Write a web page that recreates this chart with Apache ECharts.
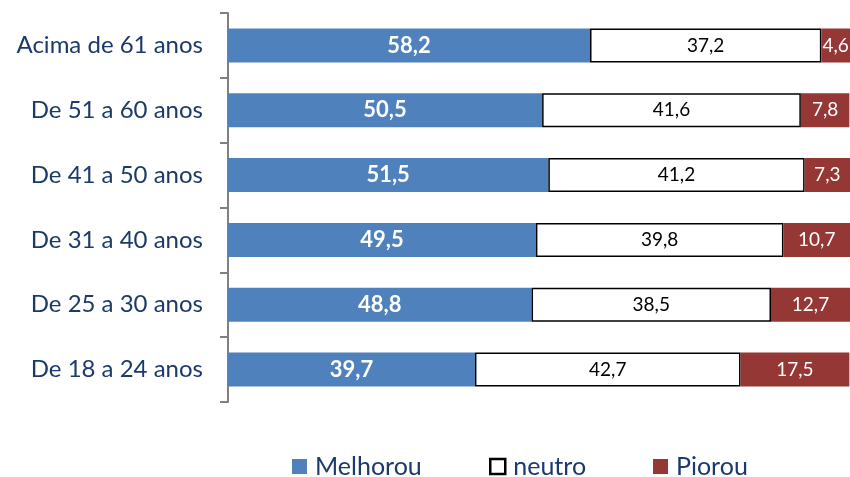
<!DOCTYPE html>
<html>
<head>
<meta charset="utf-8">
<script src="https://cdn.jsdelivr.net/npm/echarts@6/dist/echarts.min.js"></script>
<style>
  html, body { margin: 0; padding: 0; background: #ffffff; }
  #chart { width: 850px; height: 477px; }
</style>
</head>
<body>
<div id="chart"></div>
<script>
// Age groups, top to bottom
const categories = ['Acima de 61 anos', 'De 51 a 60 anos', 'De 41 a 50 anos', 'De 31 a 40 anos', 'De 25 a 30 anos', 'De 18 a 24 anos'];
// Share of answers (%) per group
const melhorou = [58.2, 50.5, 51.5, 49.5, 48.8, 39.7];
const neutro = [37.2, 41.6, 41.2, 39.8, 38.5, 42.7];
const piorou = [4.6, 7.8, 7.3, 10.7, 12.7, 17.5];
const seriesNames = ['Melhorou', 'neutro', 'Piorou'];

const fontFamily = 'Lato, "Open Sans", sans-serif';
const navy = '#1b3a6b';
const fmt = p => p.value.toFixed(1).replace('.', ',');

// one legend block per entry so each sits at its own spot
const legendLefts = [292, 489, 653];
const legends = seriesNames.map((name, i) => {
  const lg = {
    top: 454,
    left: legendLefts[i],
    padding: 0,
    icon: 'rect',
    itemWidth: 15,
    itemHeight: 15,
    textStyle: { fontSize: 25, color: navy, fontFamily, padding: [0, 0, 0, 3] },
    data: [name]
  };
  if (name === 'neutro') {
    lg.itemStyle = { color: '#ffffff', borderWidth: 2.5, borderColor: '#000000' };
  }
  return lg;
});

const chart = echarts.init(document.getElementById('chart'), null, { renderer: 'canvas' });
chart.setOption({
  animation: false,
  textStyle: { fontFamily },
  grid: { left: 228, top: 13, width: 624, height: 389, containLabel: false },
  legend: legends,
  xAxis: {
    type: 'value',
    min: 0,
    max: 100,
    show: false
  },
  yAxis: {
    type: 'category',
    inverse: true,
    data: categories,
    axisLine: { lineStyle: { color: '#808080', width: 2 } },
    axisTick: { show: true, length: 8, lineStyle: { color: '#808080', width: 2 } },
    axisLabel: { fontSize: 24, color: navy, margin: 25, fontFamily }
  },
  series: [
    {
      name: seriesNames[0],
      type: 'bar',
      stack: 'total',
      barWidth: 34,
      data: melhorou,
      itemStyle: { color: '#4f81bd' },
      label: { show: true, position: 'inside', formatter: fmt, color: '#ffffff', fontSize: 22, fontWeight: 'bold', fontFamily }
    },
    {
      name: seriesNames[1],
      type: 'bar',
      stack: 'total',
      data: neutro,
      itemStyle: { color: '#ffffff', borderColor: '#000000', borderWidth: 1.5 },
      label: { show: true, position: 'inside', formatter: fmt, color: '#000000', fontSize: 19, fontFamily }
    },
    {
      name: seriesNames[2],
      type: 'bar',
      stack: 'total',
      data: piorou,
      itemStyle: { color: '#953735' },
      label: { show: true, position: 'inside', formatter: fmt, color: '#ffffff', fontSize: 19, fontFamily }
    }
  ]
});
</script>
</body>
</html>
